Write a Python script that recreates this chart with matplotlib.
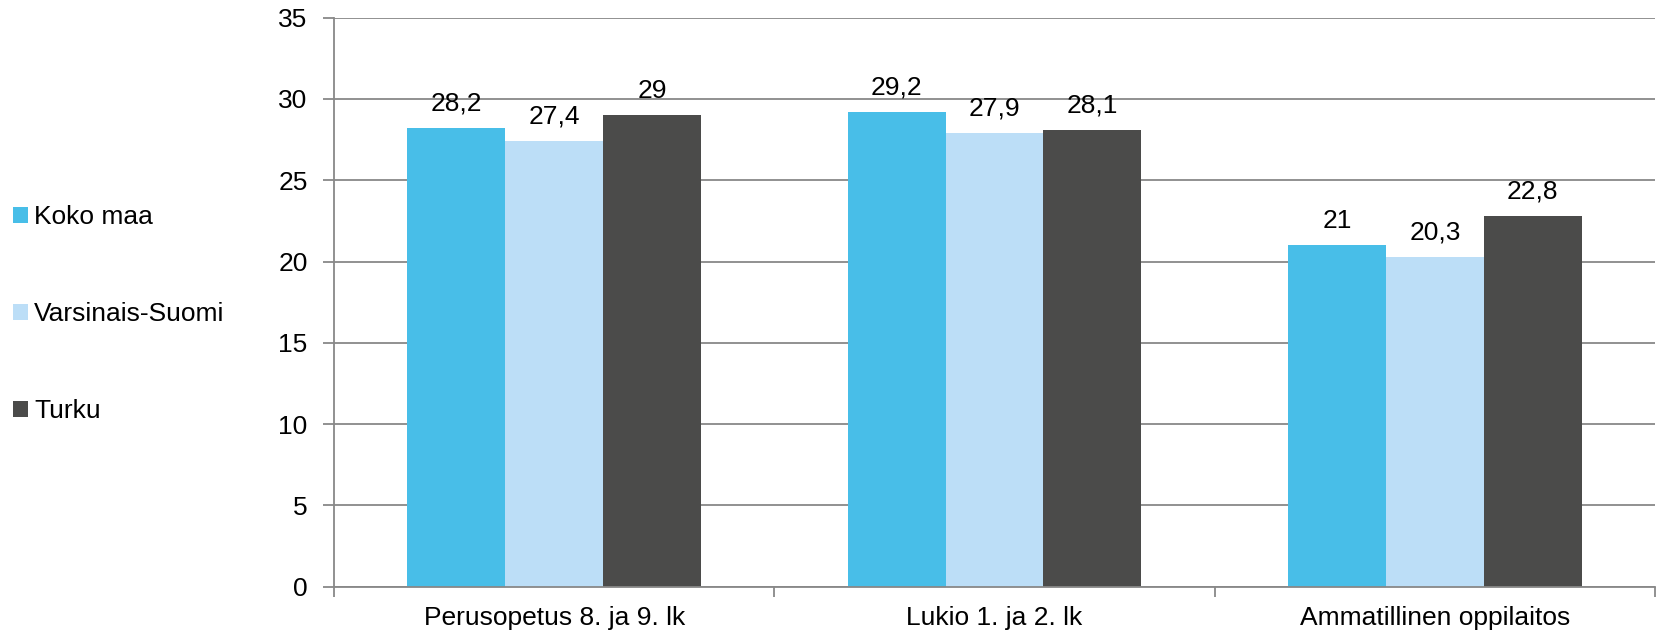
import matplotlib
matplotlib.use('Agg')
import matplotlib.pyplot as plt
import numpy as np

plt.rcParams['font.family'] = ['Liberation Sans', 'DejaVu Sans']

kategoriat = ['Perusopetus 8. ja 9. lk', 'Lukio 1. ja 2. lk', 'Ammatillinen oppilaitos']
sarjat = ['Koko maa', 'Varsinais-Suomi', 'Turku']
koko_maa = [28.2, 29.2, 21]
varsinais_suomi = [27.4, 27.9, 20.3]
turku = [29, 28.1, 22.8]
y_ticks = [0, 5, 10, 15, 20, 25, 30, 35]

arvot = [koko_maa, varsinais_suomi, turku]
varit = ['#48BEE8', '#BCDEF7', '#4B4B4A']

fs = 19
grey = '#888888'

fig = plt.figure(figsize=(16.58, 6.32), dpi=100)
ax = fig.add_axes([334/1658, 1 - 586.7/632, (1655 - 334)/1658, (586.7 - 17.7)/632])

x = np.arange(len(kategoriat))
leveys = 1 / 4.5

palkit = []
for i, (nimi, v, c) in enumerate(zip(sarjat, arvot, varit)):
    pos = x + (i - 1) * leveys
    b = ax.bar(pos, v, width=leveys, color=c, label=nimi, zorder=2)
    palkit.append(b)
    for xx, yy in zip(pos, v):
        ax.annotate(f"{yy:g}".replace('.', ','), (xx, yy), xytext=(0, 12.5),
                    textcoords='offset points', ha='center', va='baseline',
                    fontsize=fs, color='black', zorder=3)

ax.set_xlim(-0.5, 2.5)
ax.set_ylim(0, 35)
ax.set_yticks(y_ticks)
ax.set_yticklabels([str(t) for t in y_ticks])
ax.yaxis.grid(True, color=grey, linewidth=1.3)
ax.set_axisbelow(True)

ax.set_xticks(x)
ax.set_xticklabels(kategoriat)
ax.set_xticks([-0.5, 0.5, 1.5, 2.5], minor=True)
ax.tick_params(axis='x', which='major', length=0, pad=14, labelsize=fs)
ax.tick_params(axis='x', which='minor', length=7, width=1.3, color=grey, direction='out')
ax.tick_params(axis='y', length=8, width=1.3, color=grey, pad=11, labelsize=fs)

for s in ['top', 'right']:
    ax.spines[s].set_visible(False)
for s in ['left', 'bottom']:
    ax.spines[s].set_color(grey)
    ax.spines[s].set_linewidth(1.3)

fig.legend(handles=palkit, labels=sarjat, loc='center left',
           bbox_to_anchor=(13/1658, 1 - 314/632), frameon=False,
           fontsize=fs, handlelength=0.56, handleheight=0.56,
           handletextpad=0.25, labelspacing=2.77, borderpad=0, borderaxespad=0)

fig.savefig('out.png', dpi=100)
